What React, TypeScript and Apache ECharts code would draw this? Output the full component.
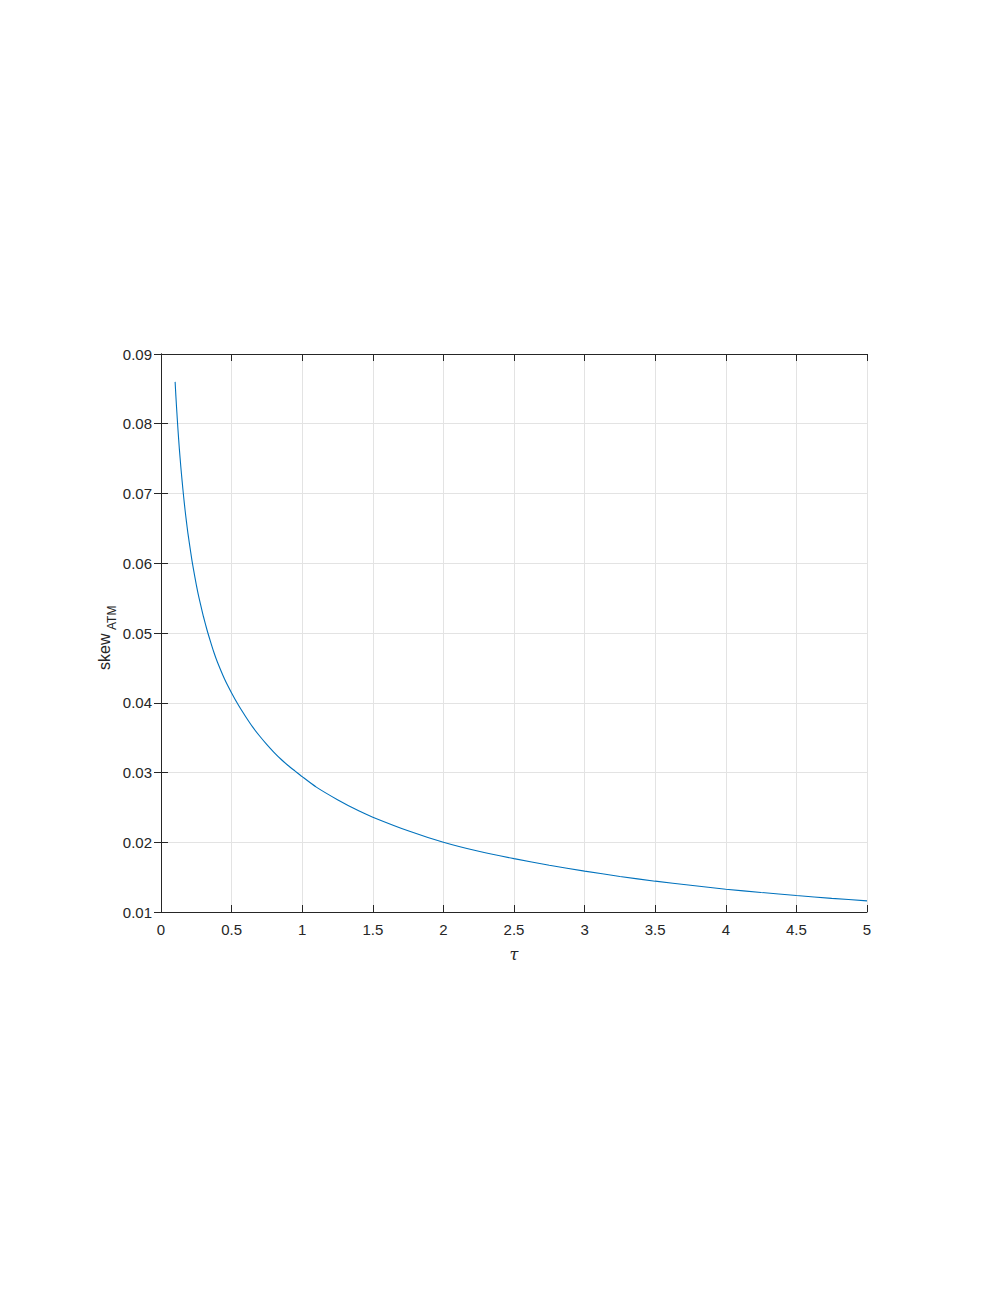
import React, { useEffect, useRef } from "react";
import * as echarts from "echarts";

const tauValues = [
  0.1, 0.105, 0.11, 0.115, 0.12, 0.13, 0.14, 0.15, 0.16, 0.17, 0.18, 0.19, 0.2, 0.22, 0.24,
  0.26, 0.28, 0.3, 0.325, 0.35, 0.375, 0.4, 0.45, 0.5, 0.55, 0.6, 0.65, 0.7, 0.75, 0.8, 0.85,
  0.9, 0.95, 1.0, 1.1, 1.25, 1.4, 1.5, 1.75, 2.0, 2.25, 2.5, 2.75, 3.0, 3.25, 3.5, 3.75, 4.0,
  4.25, 4.5, 4.75, 5.0,
];
const skewValues = [
  0.086, 0.0841, 0.0824, 0.0808, 0.0792, 0.0764, 0.0739, 0.0717, 0.0696, 0.0677, 0.066,
  0.0644, 0.063, 0.0603, 0.058, 0.0559, 0.0541, 0.0524, 0.0505, 0.0488, 0.0472, 0.0458,
  0.0434, 0.0414, 0.0396, 0.038, 0.0365, 0.0352, 0.034, 0.0329, 0.0319, 0.031, 0.0302,
  0.0294, 0.0279, 0.0261, 0.0245, 0.0236, 0.02165, 0.02, 0.0187, 0.01765, 0.0167, 0.01586,
  0.0151, 0.01442, 0.01384, 0.01327, 0.0128, 0.01236, 0.01196, 0.01159,
];
const xTicks = { min: 0, max: 5, interval: 0.5 };
const yTicks = { min: 0.01, max: 0.09, interval: 0.01 };
const xLabel = "τ";
const yLabelMain = "skew";
const yLabelSub = "ATM";

const AXIS_COLOR = "#262626";
const GRID_COLOR = "#e3e3e3";
const FONT = "'Liberation Sans', Arial, Helvetica, sans-serif";

export default function App() {
  const ref = useRef<HTMLDivElement>(null);
  useEffect(() => {
    document.body.style.margin = "0";
    const chart = echarts.init(ref.current!, null, { renderer: "svg" });
    const data = tauValues.map((t, i) => [t, skewValues[i]]);
    const axisLine = { show: true, lineStyle: { color: AXIS_COLOR, width: 1 } };
    const axisTick = { show: true, inside: true, length: 7, lineStyle: { color: AXIS_COLOR, width: 1 } };
    chart.setOption({
      animation: false,
      backgroundColor: "#ffffff",
      grid: { left: 161, right: 130, top: 354, bottom: 378, containLabel: false },
      xAxis: [
        {
          type: "value",
          position: "bottom",
          min: xTicks.min,
          max: xTicks.max,
          interval: xTicks.interval,
          axisLine,
          axisTick,
          axisLabel: { color: AXIS_COLOR, fontSize: 15, fontFamily: FONT, margin: 10 },
          splitLine: { show: true, lineStyle: { color: GRID_COLOR, width: 1 } },
          name: xLabel,
          nameLocation: "middle",
          nameGap: 34,
          nameTextStyle: {
            color: AXIS_COLOR,
            fontSize: 16,
            fontStyle: "italic",
            fontFamily: "'DejaVu Serif', 'Liberation Serif', serif",
          },
        },
        {
          type: "value",
          position: "top",
          min: xTicks.min,
          max: xTicks.max,
          interval: xTicks.interval,
          axisLine,
          axisTick,
          axisLabel: { show: false },
          splitLine: { show: false },
        },
      ],
      yAxis: [
        {
          type: "value",
          position: "left",
          min: yTicks.min,
          max: yTicks.max,
          interval: yTicks.interval,
          axisLine,
          axisTick,
          axisLabel: {
            color: AXIS_COLOR,
            fontSize: 15,
            fontFamily: FONT,
            margin: 9,
            formatter: (v: number) => v.toFixed(2),
          },
          splitLine: { show: true, lineStyle: { color: GRID_COLOR, width: 1 } },
        },
        {
          type: "value",
          position: "right",
          min: yTicks.min,
          max: yTicks.max,
          interval: yTicks.interval,
          axisLine,
          axisTick,
          axisLabel: { show: false },
          splitLine: { show: false },
        },
      ],
      graphic: [
        {
          type: "group",
          x: 104,
          y: 670,
          rotation: Math.PI / 2,
          children: [
            {
              type: "text",
              x: 0,
              y: 0,
              style: {
                text: yLabelMain,
                fill: AXIS_COLOR,
                font: `16px ${FONT}`,
                textAlign: "left",
                textVerticalAlign: "middle",
              },
            },
            {
              type: "text",
              x: 40,
              y: 8,
              style: {
                text: yLabelSub,
                fill: AXIS_COLOR,
                font: `12px ${FONT}`,
                textAlign: "left",
                textVerticalAlign: "middle",
              },
            },
          ],
        },
      ],
      series: [
        {
          type: "line",
          data,
          showSymbol: false,
          symbol: "none",
          smooth: 0.2,
          xAxisIndex: 0,
          yAxisIndex: 0,
          lineStyle: { color: "#0072BD", width: 1.1 },
        },
      ],
    });
    return () => chart.dispose();
  }, []);
  return <div ref={ref} style={{ width: 997, height: 1290 }} />;
}
